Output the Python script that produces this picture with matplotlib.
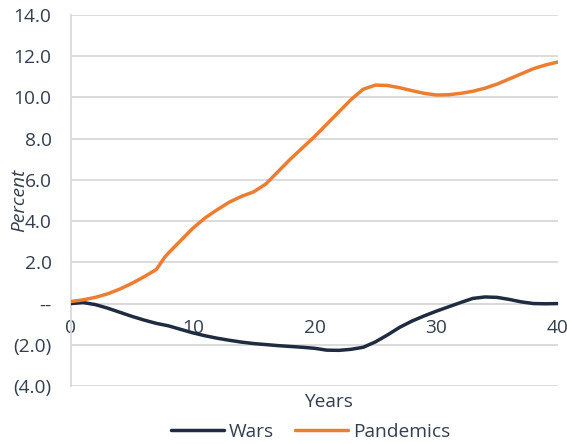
import matplotlib
matplotlib.use("Agg")
import matplotlib.pyplot as plt
from matplotlib.ticker import FixedLocator, FixedFormatter

plt.rcParams['font.family'] = ['Open Sans', 'DejaVu Sans']

# Data (years after event, percent)
years = list(range(0, 41))
pandemic_years = [0, 1, 2, 3, 4, 5, 6, 7, 7.7, 8, 9, 10, 11, 12, 13, 14, 15, 16, 17, 18, 19,
                  20, 21, 22, 23, 24, 25, 26, 27, 28, 29, 30, 31, 32, 33, 34, 35, 36, 37, 38, 39, 40]
pandemics = [0.1, 0.18, 0.3, 0.47, 0.7, 0.98, 1.3, 1.65, 2.25, 2.45, 3.05, 3.65, 4.15, 4.55,
             4.92, 5.2, 5.42, 5.8, 6.4, 7.0, 7.55, 8.1, 8.7, 9.3, 9.9, 10.4, 10.6, 10.58,
             10.47, 10.33, 10.2, 10.12, 10.13, 10.2, 10.3, 10.45, 10.65, 10.9, 11.15, 11.4,
             11.58, 11.72]
wars = [0.0, 0.05, -0.05, -0.22, -0.42, -0.62, -0.8, -0.96, -1.08, -1.25, -1.42, -1.56,
        -1.68, -1.78, -1.87, -1.94, -1.99, -2.04, -2.08, -2.12, -2.17, -2.26, -2.27, -2.22,
        -2.12, -1.86, -1.52, -1.15, -0.85, -0.6, -0.37, -0.16, 0.05, 0.25, 0.32, 0.3, 0.2,
        0.08, 0.0, -0.01, 0.0]

y_ticks = [-4, -2, 0, 2, 4, 6, 8, 10, 12, 14]
y_labels = ["(4.0)", "(2.0)", "--", "2.0", "4.0", "6.0", "8.0", "10.0", "12.0", "14.0"]
x_ticks = [0, 10, 20, 30, 40]

text_col = "#333f4f"
grid_col = "#d9d9d9"
fs = 13.8

fig = plt.figure(figsize=(5.67, 4.44), dpi=100)
ax = fig.add_axes([0.1252, 0.1306, 0.8590, 0.8356])

ax.plot(years, wars, color="#1f2b40", lw=2.5, solid_capstyle="round",
        solid_joinstyle="round", label="Wars", zorder=3)
ax.plot(pandemic_years, pandemics, color="#ed7d31", lw=2.5, solid_capstyle="round",
        solid_joinstyle="round", label="Pandemics", zorder=3)

ax.set_xlim(0, 40)
ax.set_ylim(-4, 14)
ax.yaxis.set_major_locator(FixedLocator(y_ticks))
ax.yaxis.set_major_formatter(FixedFormatter(y_labels))
ax.xaxis.set_major_locator(FixedLocator(x_ticks))

ax.grid(axis="y", color=grid_col, lw=1.3, zorder=0)
for s in ["top", "right"]:
    ax.spines[s].set_visible(False)
ax.spines["left"].set_color(grid_col)
ax.spines["left"].set_linewidth(1.3)
ax.spines["bottom"].set_position(("data", 0))
ax.spines["bottom"].set_color(grid_col)
ax.spines["bottom"].set_linewidth(1.3)

ax.tick_params(axis="both", length=0, labelsize=fs, colors=text_col)
ax.tick_params(axis="y", pad=14)
ax.tick_params(axis="x", pad=11)

# italic axis title sits over the tick labels
ax.set_ylabel("Percent", fontsize=fs, fontstyle="italic", color=text_col)
ax.yaxis.set_label_coords(-0.088, 0.5)
fig.text(0.58, 0.094, "Years", ha="center", va="center", fontsize=fs, color=text_col)

leg = fig.legend(loc="center", bbox_to_anchor=(0.548, 0.027), ncol=2, frameon=False,
                 fontsize=fs, handlelength=2.75, handletextpad=0.26, columnspacing=1.1)
for t in leg.get_texts():
    t.set_color(text_col)

fig.savefig("out.png", dpi=100)
